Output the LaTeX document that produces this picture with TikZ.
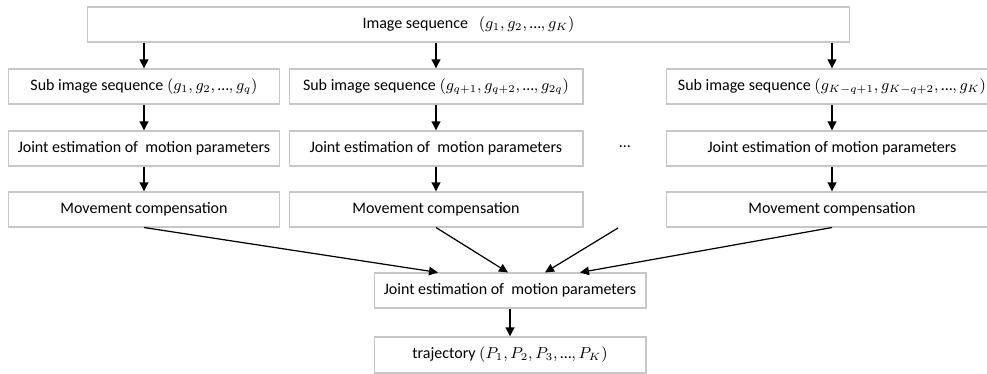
\documentclass[tikz,border=0pt]{standalone}
\usepackage{fontspec}
\setmainfont{Carlito}
\usetikzlibrary{arrows.meta}
\newcommand{\tdots}{\mbox{…}}

\begin{document}
\begin{tikzpicture}[x=0.02cm,y=-0.02cm,
		box/.style={draw=black!22,line width=0.6pt,minimum height=0.7cm,inner sep=0pt,
			font=\fontsize{9.1}{11}\selectfont},
		arr/.style={-{Triangle[length=1.8mm,width=1.7mm]},line width=1.1pt},
		conv/.style={-{Triangle[length=1.8mm,width=1.7mm]},line width=0.7pt}]
		\useasboundingbox (0,0) rectangle (987,374);

		\node[box,minimum width=15.26cm] (img) at (468.5,24.5) {Image sequence ~ $(g_1,g_2,\tdots,g_K)$\hspace{0.64cm}};

		% three columns
		\node[box,minimum width=5.42cm] (sub1) at (144,86.5) {Sub image sequence $\left(g_1,g_2,\tdots,g_q\right)$\hspace{0.44cm}};
		\node[box,minimum width=5.88cm] (sub2) at (436,86.5) {Sub image sequence $\left(g_{q+1},g_{q+2},\tdots,g_{2q}\right)$};
		\node[box,minimum width=6.64cm] (sub3) at (832,86.5) {Sub image sequence $\left(g_{K-q+1},g_{K-q+2},\tdots,g_K\right)$\hspace{0.4cm}};

		\node[box,minimum width=5.42cm] (est1) at (144,148.5) {Joint estimation of~ motion parameters};
		\node[box,minimum width=5.88cm] (est2) at (436,148.5) {Joint estimation of~ motion parameters};
		\node[box,minimum width=6.64cm] (est3) at (832,148.5) {Joint estimation of motion parameters};
		\node[font=\fontsize{9.1}{11}\selectfont] (dots) at (625,147) {…};

		\node[box,minimum width=5.42cm] (mov1) at (144,209.5) {Movement compensation};
		\node[box,minimum width=5.88cm] (mov2) at (436,209.5) {Movement compensation};
		\node[box,minimum width=6.64cm] (mov3) at (832,209.5) {Movement compensation};

		% merging
		\node[box,minimum width=5.44cm] (fin) at (510,290.5) {Joint estimation of~ motion parameters};
		\node[box,minimum width=5.44cm,minimum height=0.72cm] (traj) at (510,355) {trajectory $(P_1,P_2,P_3,\tdots,P_K)$};
		\coordinate (gap) at (618,228);

		\foreach \c in {1,2,3}{
			\draw[arr] (img.south -| sub\c.north) -- (sub\c.north);
			\draw[arr] (sub\c) -- (est\c);
			\draw[arr] (est\c) -- (mov\c);
		}
		\draw[conv] (mov1.south) -- ([xshift=-1.44cm]fin.north);
		\draw[conv] (mov2.south) -- ([xshift=-0.04cm]fin.north);
		\draw[conv] (gap) -- ([xshift=0.7cm]fin.north);
		\draw[conv] (mov3.south) -- ([xshift=1.4cm]fin.north);
		\draw[arr] (fin) -- (traj);
	\end{tikzpicture}
\end{document}
